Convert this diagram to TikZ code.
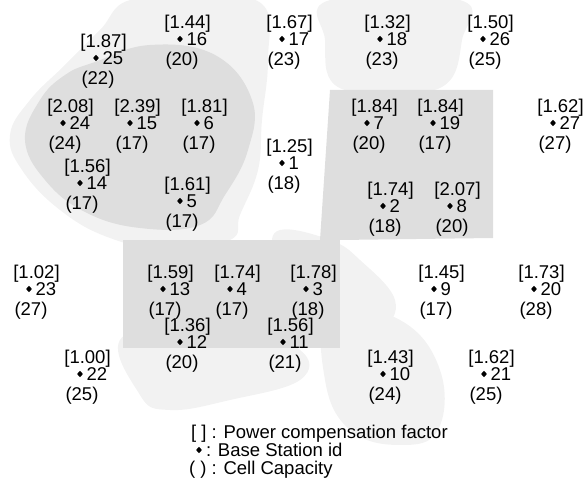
\documentclass[tikz,border=0pt]{standalone}
\usepackage{fontspec}
\setmainfont{Liberation Sans}
\usetikzlibrary{shapes.geometric}
\definecolor{stlight}{gray}{0.95}
\definecolor{stdense}{gray}{0.87}
\tikzset{
  lbl/.style={font=\fontsize{18.5pt}{20pt}\selectfont, inner sep=0pt, outer sep=0pt, text height=13pt, text depth=0pt},
  bsdot/.style={diamond, fill=black, inner sep=0pt, minimum width=6pt, minimum height=6.5pt},
  pcf/.style={lbl, anchor=base},
  bsid/.style={lbl, anchor=base west},
  ccap/.style={lbl, anchor=base},
  legend/.style={lbl, font=\fontsize{18.5pt}{20pt}\selectfont, anchor=base west}
}
\newcommand\bstation[5]{%
  \node[bsdot] (d#1) at (#2,#3) {};
  \node[pcf]  (f#1) at (#2+7.5,#3-10.5) {[#4]};
  \node[bsid] (i#1) at (#2+6.5,#3+6.5) {#1};
  \node[ccap] (c#1) at (#2+2,#3+26.5) {(#5)};
}
\begin{document}
\begin{tikzpicture}[x=1pt,y=-1pt]
\useasboundingbox (0,0) rectangle (584,502);
% shaded coverage regions
\fill[stlight] plot[smooth cycle, tension=0.7] coordinates {(130,0) (200,0) (262,4) (268,60) (262,120) (258,170) (240,215) (230,240) (170,250) (110,238) (60,210) (22,170) (10,135) (30,100) (65,65) (100,30)};
\fill[stlight] plot[smooth cycle, tension=0.7] coordinates {(330,0) (460,0) (462,40) (445,85) (390,92) (335,85) (325,40)};
\fill[stlight] plot[smooth cycle, tension=0.7] coordinates {(280,230) (330,240) (360,260) (395,300) (380,330) (340,335) (300,290) (275,255)};
\fill[stlight] plot[smooth cycle, tension=0.7] coordinates {(330,310) (400,320) (440,370) (438,430) (400,445) (350,430) (325,380)};
\fill[stlight] plot[smooth cycle, tension=0.7] coordinates {(125,335) (240,335) (300,350) (300,380) (230,400) (170,410) (140,395)};
\fill[stdense] plot[smooth cycle, tension=0.7] coordinates {(95,62) (150,45) (215,55) (252,100) (248,150) (225,195) (200,225) (140,228) (85,212) (45,180) (25,140) (40,100) (65,75)};
\fill[stdense] (330,90) -- (493,90) -- (493,238) -- (340,240) -- (325,250) -- (320,240) -- cycle;
\fill[stdense] (123,240) rectangle (340,348);
% base stations
\bstation{1}{282}{163}{1.25}{18}
\bstation{2}{383}{206}{1.74}{18}
\bstation{3}{306}{289}{1.78}{18}
\bstation{4}{230}{289}{1.74}{17}
\bstation{5}{180}{201}{1.61}{17}
\bstation{6}{197}{123}{1.81}{17}
\bstation{7}{367}{123}{1.84}{20}
\bstation{8}{450}{206}{2.07}{20}
\bstation{9}{434}{289}{1.45}{17}
\bstation{10}{383}{374}{1.43}{24}
\bstation{11}{283}{342}{1.56}{21}
\bstation{12}{180}{342}{1.36}{20}
\bstation{13}{163}{289}{1.59}{17}
\bstation{14}{80}{183}{1.56}{17}
\bstation{15}{130}{123}{2.39}{17}
\bstation{16}{180}{39}{1.44}{20}
\bstation{17}{282}{39}{1.67}{23}
\bstation{18}{380}{39}{1.32}{23}
\bstation{19}{433}{123}{1.84}{17}
\bstation{20}{534}{289}{1.73}{28}
\bstation{21}{484}{374}{1.62}{25}
\bstation{22}{80}{374}{1.00}{25}
\bstation{23}{29}{289}{1.02}{27}
\bstation{24}{63}{123}{2.08}{24}
\bstation{25}{96}{58}{1.87}{22}
\bstation{26}{483}{39}{1.50}{25}
\bstation{27}{553}{123}{1.62}{27}
% legend
\node[legend] (lg1) at (191,439) {[ ] : Power compensation factor};
\node[bsdot] (lgd) at (199,450) {};
\node[legend] (lg2) at (206,457) {: Base Station id};
\node[legend] (lg3) at (189,475) {( ) : Cell Capacity};
\end{tikzpicture}
\end{document}
